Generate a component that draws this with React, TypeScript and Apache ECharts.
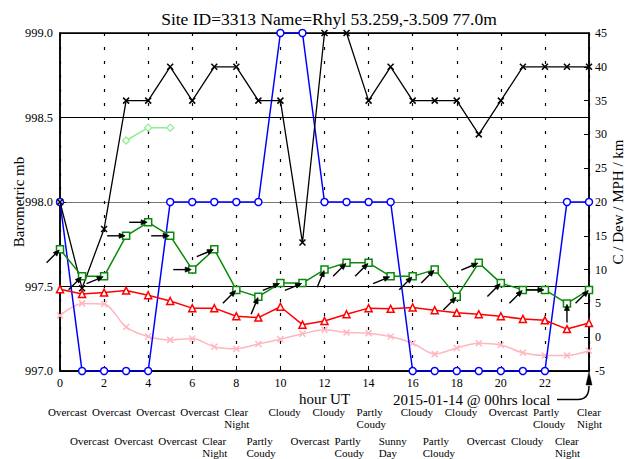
import React, { useEffect, useRef } from 'react';
import * as echarts from 'echarts';

const titleText = 'Site ID=3313 Name=Rhyl 53.259,-3.509 77.0m';
const hours = [0, 1, 2, 3, 4, 5, 6, 7, 8, 9, 10, 11, 12, 13, 14, 15, 16, 17, 18, 19, 20, 21, 22, 23, 24];
// left axis (mb)
const pressureMb = [998.0, 997.49, 997.84, 998.6, 998.6, 998.8, 998.6, 998.8, 998.8, 998.6, 998.6, 997.76, 999.0, 999.0, 998.6, 998.8, 998.6, 998.6, 998.6, 998.4, 998.6, 998.8, 998.8, 998.8, 998.8];
// right axis (C / Dew / MPH / km)
const visibilityKm = [20, -5, -5, -5, -5, 20, 20, 20, 20, 20, 45, 45, 20, 20, 20, 20, -5, -5, -5, -5, -5, -5, -5, 20, 20];
const windMph = [13, 9, 9, 15, 17, 15, 10, 13, 7, 6, 8, 8, 10, 11, 11, 9, 9, 10, 6, 11, 8, 7, 7, 5, 7];
const windArrowDeg = [45, 45, 22.5, 0, 0, 0, 0, 22.5, 45, 67.5, 22.5, 22.5, 67.5, 45, 45, 22.5, 45, 45, 45, 22.5, 45, 45, 0, 90, 45];
const tempC = [7.1, 6.4, 6.6, 6.9, 6.2, 5.35, 4.3, 4.3, 3.1, 2.9, 4.5, 1.85, 2.4, 3.4, 4.3, 4.2, 4.4, 4.0, 3.6, 3.4, 3.1, 2.7, 2.5, 1.2, 2.1];
const dewC = [3.2, 5.0, 4.9, 1.5, 0.1, -0.4, -0.2, -1.4, -1.7, -1.0, -0.3, 0.5, 1.1, 0.7, 0.6, 0.1, -0.9, -2.5, -1.6, -0.9, -1.15, -2.3, -2.7, -2.7, -2.0];
const extraHours = [3, 4, 5];
const extraValues = [29.1, 31.0, 31.0];

const weatherRow1Hours = [0, 2, 4, 6, 8, 10, 12, 14, 16, 18, 20, 22, 24];
const weatherRow1 = ['Overcast', 'Overcast', 'Overcast', 'Overcast', 'Clear\nNight', 'Cloudy', 'Cloudy', 'Partly\nCoudy', 'Cloudy', 'Cloudy', 'Overcast', 'Partly\nCloudy', 'Clear\nNight'];
const weatherRow2Hours = [1, 3, 5, 7, 9, 11, 13, 15, 17, 19, 21, 23];
const weatherRow2 = ['Overcast', 'Overcast', 'Overcast', 'Clear\nNight', 'Partly\nCoudy', 'Overcast', 'Partly\nCoudy', 'Sunny\nDay', 'Partly\nCloudy', 'Overcast', 'Cloudy', 'Clear\nNight'];
const localDateText = '2015-01-14 @ 00hrs local';

const FONT = '"Liberation Serif", "Times New Roman", serif';
const CROSS = 'path://M0 0L10 10M10 0L0 10';

export default function App() {
  const ref = useRef<HTMLDivElement>(null);
  useEffect(() => {
    document.body.style.margin = '0';
    const chart = echarts.init(ref.current as HTMLDivElement, undefined, { renderer: 'svg' });

    const pair = (xs: number[], ys: number[]) => xs.map((x, i) => [x, ys[i]]);

    const weatherSeries = (hs: number[], texts: string[], offset: number) => ({
      type: 'custom',
      xAxisIndex: 0,
      yAxisIndex: 1,
      clip: false,
      silent: true,
      z: 10,
      data: hs.map((h) => [h, -5]),
      renderItem: (params: any, api: any) => {
        const p = api.coord([api.value(0), api.value(1)]);
        return {
          type: 'text',
          x: p[0] - 12,
          y: p[1] + offset,
          style: {
            text: texts[params.dataIndex],
            fill: '#000',
            fontSize: 11,
            fontFamily: FONT,
            align: 'left',
            verticalAlign: 'top',
            lineHeight: 12.4,
          },
        };
      },
    });

    const option: any = {
      animation: false,
      backgroundColor: '#fff',
      title: {
        text: titleText,
        left: 324,
        textAlign: 'center',
        top: 5,
        textStyle: { fontFamily: FONT, fontSize: 17.5, fontWeight: 'normal', color: '#000' },
      },
      grid: {
        left: 60, right: 41, top: 33, bottom: 88,
        outerBoundsMode: 'none',
        containLabel: false,
        show: true, borderColor: '#000', borderWidth: 1.5, backgroundColor: 'transparent',
      },
      xAxis: {
        type: 'value',
        min: 0,
        max: 24,
        interval: 2,
        name: 'hour UT',
        nameLocation: 'middle',
        nameGap: 20,
        nameMoveOverlap: false,
        nameTextStyle: { fontFamily: FONT, fontSize: 15, color: '#000' },
        axisLine: { show: true, onZero: false, lineStyle: { color: '#000', width: 1.5 } },
        axisTick: { show: true, inside: true, length: 5, lineStyle: { color: '#000' } },
        axisLabel: {
          margin: 6,
          fontFamily: FONT,
          fontSize: 12,
          color: '#000',
          formatter: (v: number) => (v === 24 ? '' : String(v)),
        },
        splitLine: { show: true, lineStyle: { color: '#000', width: 1.2, type: [3, 11] } },
      },
      yAxis: [
        {
          type: 'value',
          min: 997,
          max: 999,
          interval: 0.5,
          position: 'left',
          name: 'Barometric mb',
          nameLocation: 'middle',
          nameRotate: 90,
          nameGap: 34,
          nameMoveOverlap: false,
          nameTextStyle: { fontFamily: FONT, fontSize: 15, color: '#000' },
          axisLine: { show: true, onZero: false, lineStyle: { color: '#000', width: 1.5 } },
          axisTick: { show: true, inside: true, length: 6, lineStyle: { color: '#000' } },
          axisLabel: { margin: 7, fontFamily: FONT, fontSize: 12.4, color: '#000', formatter: (v: number) => v.toFixed(1) },
          splitLine: { show: true, lineStyle: { color: ['#000', '#000', '#777', '#000', '#000'], width: 1, type: 'solid' } },
        },
        {
          type: 'value',
          min: -5,
          max: 45,
          interval: 5,
          position: 'right',
          name: 'C / Dew / MPH / km',
          nameLocation: 'middle',
          nameRotate: 90,
          nameGap: 21,
          nameMoveOverlap: false,
          nameTextStyle: { fontFamily: FONT, fontSize: 15, color: '#000' },
          axisLine: { show: true, onZero: false, lineStyle: { color: '#000', width: 1.5 } },
          axisTick: { show: true, inside: true, length: 5, lineStyle: { color: '#000' } },
          axisLabel: { margin: 6, fontFamily: FONT, fontSize: 12, color: '#000' },
          splitLine: { show: false },
        },
      ],
      series: [
        {
          name: 'Visibility',
          type: 'line',
          yAxisIndex: 1,
          data: pair(hours, visibilityKm),
          symbol: 'circle',
          symbolSize: 7,
          lineStyle: { color: '#0000ff', width: 1.5 },
          itemStyle: { color: '#fff', borderColor: '#0000ff', borderWidth: 1.5 },
          z: 3,
        },
        {
          name: 'Pressure',
          type: 'line',
          yAxisIndex: 0,
          data: pair(hours, pressureMb),
          symbol: CROSS,
          symbolSize: 6,
          lineStyle: { color: '#000', width: 1.3 },
          itemStyle: { color: 'none', borderColor: '#000', borderWidth: 1.5 },
          z: 4,
        },
        {
          name: 'Dew',
          type: 'line',
          yAxisIndex: 1,
          smooth: 0.3,
          data: pair(hours, dewC),
          symbol: CROSS,
          symbolSize: 6,
          lineStyle: { color: '#ffb6c1', width: 1.5 },
          itemStyle: { color: 'none', borderColor: '#ffb6c1', borderWidth: 1.5 },
          z: 2,
        },
        {
          name: 'Temp',
          type: 'line',
          yAxisIndex: 1,
          data: pair(hours, tempC),
          symbol: 'triangle',
          symbolSize: 7,
          lineStyle: { color: '#ff0000', width: 1.5 },
          itemStyle: { color: '#fff', borderColor: '#ff0000', borderWidth: 1.5 },
          z: 4,
        },
        {
          name: 'Wind',
          type: 'line',
          yAxisIndex: 1,
          data: pair(hours, windMph),
          symbol: 'rect',
          symbolSize: 7,
          lineStyle: { color: '#0a8a0a', width: 1.5 },
          itemStyle: { color: '#fff', borderColor: '#0a8a0a', borderWidth: 1.5 },
          z: 4,
        },
        {
          name: 'Extra',
          type: 'line',
          yAxisIndex: 1,
          data: pair(extraHours, extraValues),
          symbol: 'diamond',
          symbolSize: 7,
          lineStyle: { color: '#90ee90', width: 1.5 },
          itemStyle: { color: '#fff', borderColor: '#90ee90', borderWidth: 1.3 },
          z: 4,
        },
        {
          name: 'WindDir',
          type: 'custom',
          yAxisIndex: 1,
          clip: false,
          silent: true,
          z: 6,
          data: hours.map((h, i) => [h, windMph[i], windArrowDeg[i]]),
          renderItem: (params: any, api: any) => {
            const p = api.coord([api.value(0), api.value(1)]);
            const a = (api.value(2) * Math.PI) / 180;
            const dx = Math.cos(a);
            const dy = -Math.sin(a);
            const L = 18;
            const head = 6;
            const hw = 2.5;
            const tip = [p[0] - dx * 1, p[1] - dy * 1];
            const start = [tip[0] - dx * L, tip[1] - dy * L];
            const base = [tip[0] - dx * head, tip[1] - dy * head];
            const nx = -dy;
            const ny = dx;
            return {
              type: 'group',
              children: [
                { type: 'line', shape: { x1: start[0], y1: start[1], x2: base[0], y2: base[1] }, style: { stroke: '#000', lineWidth: 1.4 } },
                {
                  type: 'polygon',
                  shape: { points: [tip, [base[0] + nx * hw, base[1] + ny * hw], [base[0] - nx * hw, base[1] - ny * hw]] },
                  style: { fill: '#000', stroke: '#000', lineWidth: 0.8 },
                },
              ],
            };
          },
        },
        weatherSeries(weatherRow1Hours, weatherRow1, 34.8),
        weatherSeries(weatherRow2Hours, weatherRow2, 63.6),
      ],
      graphic: [
        {
          type: 'text',
          left: 393,
          top: 392,
          style: { text: localDateText, fill: '#000', fontSize: 15, fontFamily: FONT },
        },
        {
          type: 'polyline',
          shape: { points: [[557, 399.5], [578, 399.5]] },
          style: { stroke: '#000', lineWidth: 1.5, fill: 'none' },
        },
        {
          type: 'bezierCurve',
          shape: { x1: 578, y1: 399.5, cpx1: 589, cpy1: 399.5, x2: 589, y2: 386 },
          style: { stroke: '#000', lineWidth: 1.5, fill: 'none' },
        },
        {
          type: 'polygon',
          shape: { points: [[589, 372], [586, 385], [592, 385]] },
          style: { fill: '#000', stroke: '#000', lineWidth: 0.5 },
        },
      ],
    };

    chart.setOption(option);
    return () => chart.dispose();
  }, []);

  return <div ref={ref} style={{ width: 630, height: 459 }} />;
}
